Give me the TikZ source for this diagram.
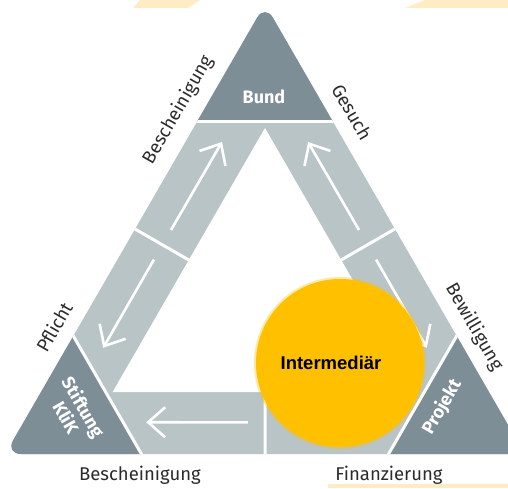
\documentclass[tikz,border=0pt]{standalone}
\usepackage{fontspec}
\setmainfont{Fira Sans}
\newfontfamily\arialfont{Liberation Sans}
\usetikzlibrary{arrows.meta}
\definecolor{bandgrey}{HTML}{B9C4C7}
\definecolor{cornergrey}{HTML}{7D8E96}
\definecolor{sunyellow}{HTML}{FFC000}
\definecolor{haze}{HTML}{FFECC4}
\definecolor{labelgrey}{HTML}{2B2B2B}
\newcommand{\drawSector}[1]{
    \begin{scope}[rotate around={#1:(265,184)}]
        \fill[cornerfill] (-100,366) rectangle (630,600);
        \draw[gapline] (-100,366) -- (630,366);
        \draw[gapline] (265,184) -- (-21,349);
        \draw[flow] (171,258) -- (222,346);
        \draw[flow] (359,258) -- (308,346);
    \end{scope}
}

\begin{document}
\begin{tikzpicture}[x=1pt,y=1pt,
    cornerfill/.style={fill=cornergrey},
    gapline/.style={draw=white,line width=3pt},
    flow/.style={draw=white,line width=2.6pt,-{Straight Barb[length=17pt,width=30pt]}},
    sidetext/.style={text=labelgrey,font=\fontsize{18.5}{22}\selectfont},
    cornertext/.style={text=white,font=\fontsize{18}{20}\selectfont\bfseries,align=center}]
\useasboundingbox (0,0) rectangle (508,488);

% faint strips at the edges
\fill[haze] (140,488) -- (200,488) -- (188,480) -- (133,480) -- cycle;
\fill[haze] (425,488) -- (508,488) -- (508,480) -- (405,480) -- cycle;
\fill[haze] (328,0) rectangle (508,4);

% the triangle with its bands
\begin{scope}
    \clip[rounded corners=16pt] (265,484) -- (5.2,34) -- (524.8,34) -- cycle;
    \fill[bandgrey] (0,0) rectangle (530,490);
    \fill[white] (265,360) -- (112.6,96) -- (417.4,96) -- cycle;
    % Bund, Stiftung KliK, Projekt
    \drawSector{0}
    \drawSector{120}
    \drawSector{240}
\end{scope}

% corner names
\node[cornertext] (bund) at (264,391) {Bund};
\node[cornertext,rotate=-60] (klik) at (75,76) {Stiftung\\KliK};
\node[cornertext,rotate=60] (projekt) at (442,81) {Projekt};

% side labels
\node[sidetext,rotate=60] (bescheinigungA) at (178,378) {Bescheinigung};
\node[sidetext,rotate=-60] (gesuch) at (352,376) {Gesuch};
\node[sidetext,rotate=60] (pflicht) at (54,161) {Pflicht};
\node[sidetext,rotate=-60] (bewilligung) at (474,161) {Bewilligung};
\node[sidetext,anchor=base] (bescheinigungB) at (140,8) {Bescheinigung};
\node[sidetext,anchor=base] (finanzierung) at (389,8) {Finanzierung};

% Intermediaer
\fill[sunyellow,opacity=0.35] (340,125) circle (86);
\node[circle,fill=sunyellow,minimum size=168pt,inner sep=0pt] (intermediaer) at (340,125) {};
\node[font=\arialfont\bfseries\fontsize{18.5}{20}\selectfont] (intertext) at (331,125) {Intermediär};
\end{tikzpicture}
\end{document}
